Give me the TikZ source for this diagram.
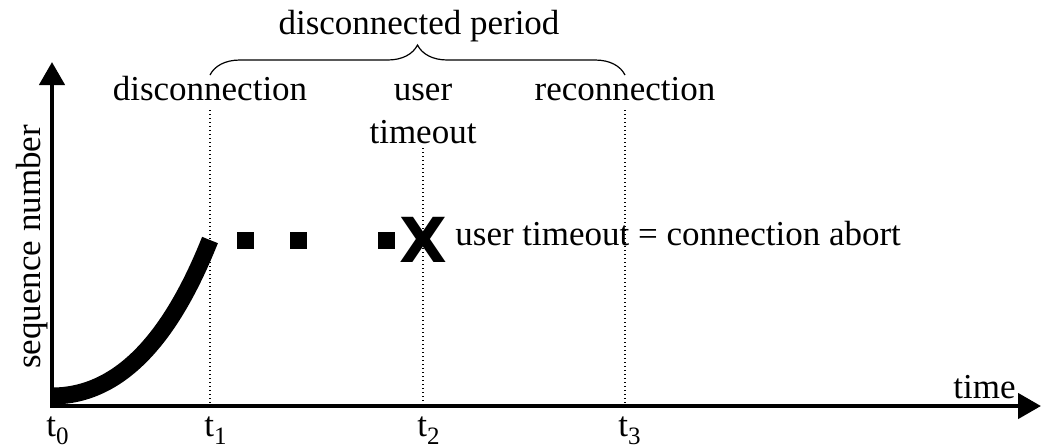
\documentclass[tikz,border=0pt]{standalone}
\usepackage{fontspec}
\setmainfont{Liberation Serif}
\newfontfamily\xfont{DejaVu Sans}
\usetikzlibrary{arrows.meta,decorations.pathreplacing}
\newcommand\tick[1]{t\raisebox{-4pt}{\fontsize{12.5}{12.5}\selectfont#1}}
\begin{document}
\begin{tikzpicture}[x=0.5pt,y=-0.5pt,
        every node/.style={font=\fontsize{17.5}{21}\selectfont,inner sep=0pt},
        axis/.style={line width=2.25pt,{Triangle[width=12.5pt,length=11.5pt]}-{Triangle[width=12.5pt,length=11.5pt]}},
        guide/.style={line width=0.6pt,dash pattern=on 0.6pt off 1.4pt},
        packet/.style={fill,minimum size=8.5pt,inner sep=0pt}]
            \useasboundingbox(0,0)rectangle(1042,447);
            \coordinate(o)at(52,406);
            \coordinate(ytip)at(52,62);
            \coordinate(xtip)at(1041,406);
            % disconnection, user timeout, reconnection
            \coordinate(t1top)at(210,110);\coordinate(t1)at(210,406);
            \coordinate(t2top)at(423,148);\coordinate(t2)at(423,406);
            \coordinate(t3top)at(625,110);\coordinate(t3)at(625,406);
            \draw[guide](t1top)--(t1);
            \draw[guide](t2top)--(t2);
            \draw[guide](t3top)--(t3);
            \draw[axis](ytip)--(o)--(xtip);
            \coordinate(s0)at(52,396);
            \coordinate(s1)at(210,240);
            \draw[line width=8.5pt](s0)..controls(132,396)and(180,315)..(s1);
            \foreach \px/\nm in {245/pa,298/pb,386/pc}
                \node[packet](\nm)at(\px,240){};
            \node[font=\xfont\bfseries\fontsize{31}{31}\selectfont](abort)at(423,240){X};
            \node[anchor=base west](abortlbl)at(455,245){user timeout = connection abort};
            \draw[decorate,decoration={brace,amplitude=15pt},line width=0.6pt](210,75)--(625,75);
            \node[anchor=base](period)at(419,34){disconnected period};
            \node[anchor=base](dis)at(210,100){disconnection};
            \node[anchor=base](user)at(423,100){user};
            \node[anchor=base](timeout)at(423,143){timeout};
            \node[anchor=base](rec)at(625,100){reconnection};
            \node[anchor=base,rotate=90](seq)at(40,247){sequence number};
            \node[anchor=base west](time)at(953,398){time};
            \node[anchor=base west](l0)at(46,436){\tick{0}};
            \node[anchor=base west](l1)at(204,436){\tick{1}};
            \node[anchor=base west](l2)at(417,436){\tick{2}};
            \node[anchor=base west](l3)at(618,436){\tick{3}};
        \end{tikzpicture}
\end{document}
